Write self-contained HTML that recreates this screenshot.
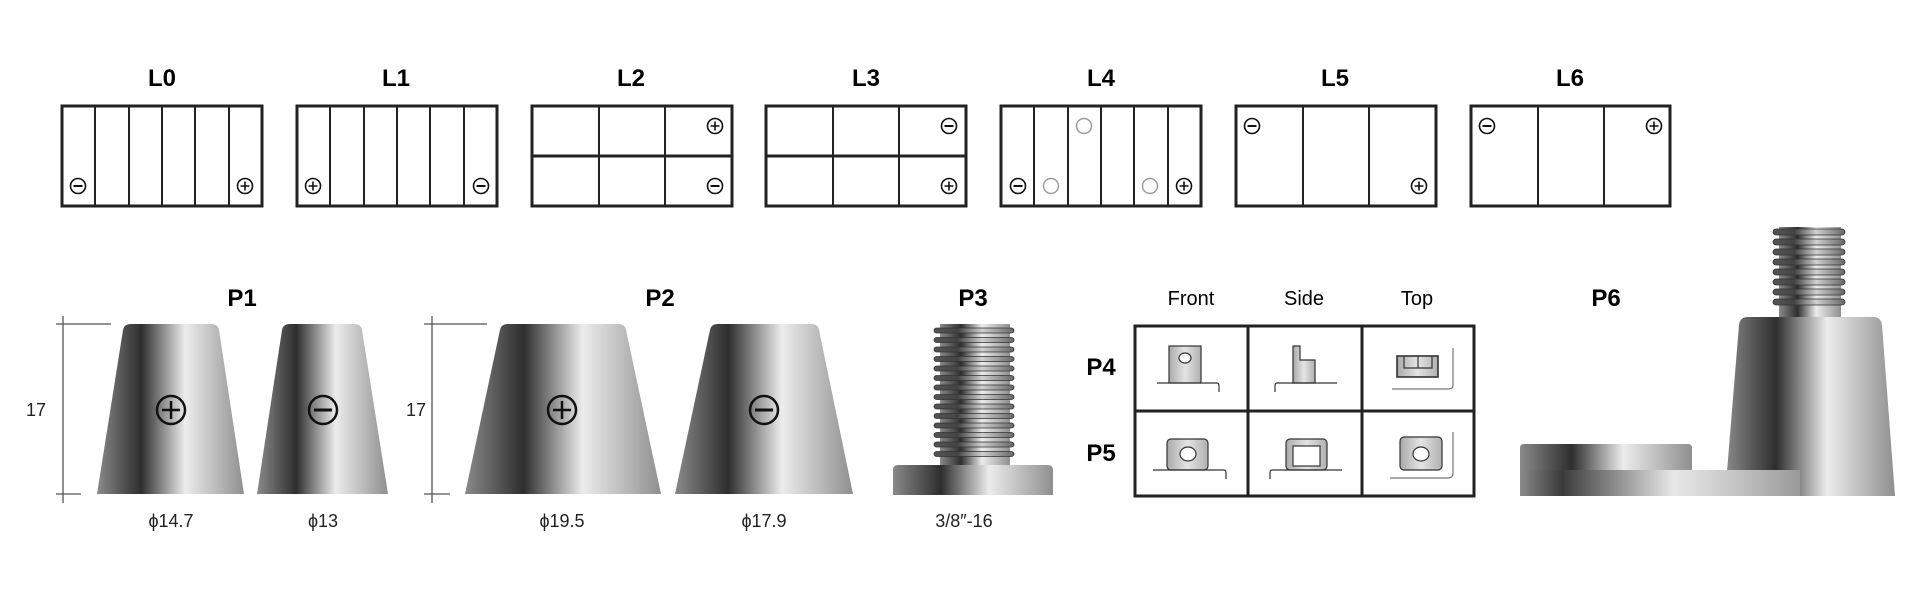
<!DOCTYPE html>
<html><head><meta charset="utf-8"><style>
html,body{margin:0;padding:0;background:#fff;}
svg{display:block;}
.t{font-family:"Liberation Sans Narrow","Liberation Sans",sans-serif;font-weight:bold;font-size:24px;text-anchor:middle;}
.h{font-family:"Liberation Sans Narrow","Liberation Sans",sans-serif;font-size:20px;text-anchor:middle;}
.d{font-family:"Liberation Sans",sans-serif;font-size:18px;text-anchor:middle;fill:#222;}
</style></head><body>
<svg width="1921" height="600" viewBox="0 0 1921 600" xmlns="http://www.w3.org/2000/svg">
<defs>
<linearGradient id="m" x1="0" x2="1" y1="0" y2="0">
<stop offset="0" stop-color="#8a8a8a"/><stop offset="0.3" stop-color="#2e2e2e"/><stop offset="0.6" stop-color="#ececec"/><stop offset="1" stop-color="#8f8f8f"/>
</linearGradient>
<linearGradient id="bar" x1="0" x2="1" y1="0" y2="0">
<stop offset="0" stop-color="#8a8a8a"/><stop offset="0.15" stop-color="#3a3a3a"/><stop offset="0.55" stop-color="#e8e8e8"/><stop offset="0.75" stop-color="#c8c8c8"/><stop offset="1" stop-color="#999"/>
</linearGradient>
<linearGradient id="th" x1="0" x2="1" y1="0" y2="0">
<stop offset="0" stop-color="#555"/><stop offset="0.3" stop-color="#444"/><stop offset="0.6" stop-color="#cfcfcf"/><stop offset="1" stop-color="#666"/>
</linearGradient>
<linearGradient id="ic" x1="0" x2="1" y1="0" y2="0">
<stop offset="0" stop-color="#aaa"/><stop offset="0.5" stop-color="#e4e4e4"/><stop offset="1" stop-color="#b0b0b0"/>
</linearGradient>
<g id="pl"><circle r="7.5" fill="#fff" stroke="#111" stroke-width="1.6"/><path d="M-4.5 0H4.5M0 -4.5V4.5" stroke="#111" stroke-width="1.6"/></g>
<g id="mi"><circle r="7.5" fill="#fff" stroke="#111" stroke-width="1.6"/><path d="M-4.5 0H4.5" stroke="#111" stroke-width="2"/></g>
<g id="gc"><circle r="7.5" fill="none" stroke="#999" stroke-width="1.4"/></g>
<g id="PL"><circle r="14" fill="none" stroke="#111" stroke-width="2.5"/><path d="M-9 0H9M0 -9V9" stroke="#111" stroke-width="2.5"/></g>
<g id="MI"><circle r="14" fill="none" stroke="#111" stroke-width="2.5"/><path d="M-9 0H9" stroke="#111" stroke-width="3"/></g>
</defs>

<g class="t">
<text x="162" y="86">L0</text><text x="396" y="86">L1</text><text x="631" y="86">L2</text><text x="866" y="86">L3</text>
<text x="1101" y="86">L4</text><text x="1335" y="86">L5</text><text x="1570" y="86">L6</text>
</g>
<g fill="none" stroke="#222">
<rect x="62" y="106" width="200" height="100" stroke-width="3"/>
<path d="M95 106V206M129 106V206M162 106V206M195 106V206M229 106V206" stroke-width="2"/>
<rect x="297" y="106" width="200" height="100" stroke-width="3"/>
<path d="M330 106V206M364 106V206M397 106V206M430 106V206M464 106V206" stroke-width="2"/>
<rect x="532" y="106" width="200" height="100" stroke-width="3"/>
<path d="M599 106V206M665 106V206" stroke-width="2"/><path d="M532 156H732" stroke-width="3"/>
<rect x="766" y="106" width="200" height="100" stroke-width="3"/>
<path d="M833 106V206M899 106V206" stroke-width="2"/><path d="M766 156H966" stroke-width="3"/>
<rect x="1001" y="106" width="200" height="100" stroke-width="3"/>
<path d="M1034 106V206M1068 106V206M1101 106V206M1134 106V206M1168 106V206" stroke-width="2"/>
<rect x="1236" y="106" width="200" height="100" stroke-width="3"/>
<path d="M1303 106V206M1369 106V206" stroke-width="2"/>
<rect x="1471" y="106" width="199" height="100" stroke-width="3"/>
<path d="M1538 106V206M1604 106V206" stroke-width="2"/>
</g>
<use href="#mi" x="78" y="186"/><use href="#pl" x="245" y="186"/>
<use href="#pl" x="313" y="186"/><use href="#mi" x="481" y="186"/>
<use href="#pl" x="715" y="126"/><use href="#mi" x="715" y="186"/>
<use href="#mi" x="949" y="126"/><use href="#pl" x="949" y="186"/>
<use href="#mi" x="1018" y="186"/><use href="#gc" x="1051" y="186"/><use href="#gc" x="1084" y="126"/><use href="#gc" x="1150" y="186"/><use href="#pl" x="1184" y="186"/>
<use href="#mi" x="1252" y="126"/><use href="#pl" x="1419" y="186"/>
<use href="#mi" x="1487" y="126"/><use href="#pl" x="1654" y="126"/>

<g class="t">
<text x="242" y="306">P1</text><text x="660" y="306">P2</text><text x="973" y="306">P3</text><text x="1606" y="306">P6</text>
<text x="1101" y="375">P4</text><text x="1101" y="461">P5</text>
</g>
<g class="h"><text x="1191" y="305">Front</text><text x="1304" y="305">Side</text><text x="1417" y="305">Top</text></g>

<g stroke="#555" stroke-width="1.3">
<path d="M63 316V503M56 324H111M56 494H81"/>
<path d="M432 316V503M424 324H487M424 494H450"/>
</g>
<text class="d" x="36" y="416">17</text><text class="d" x="416" y="416">17</text>

<path d="M97 494L123 330Q124 324 131 324H211Q218 324 219 330L244 494Z" fill="url(#m)"/>
<path d="M257 494L282 330Q283 324 290 324H354Q361 324 362 330L388 494Z" fill="url(#m)"/>
<path d="M465 494L500 330Q501 324 508 324H618Q625 324 626 330L661 494Z" fill="url(#m)"/>
<path d="M675 494L710 330Q711 324 718 324H811Q818 324 819 330L853 494Z" fill="url(#m)"/>
<use href="#PL" x="171" y="410"/><use href="#MI" x="323" y="410"/>
<use href="#PL" x="562" y="410"/><use href="#MI" x="764" y="410"/>
<g class="d"><text x="171" y="527">ϕ14.7</text><text x="323" y="527">ϕ13</text><text x="562" y="527">ϕ19.5</text><text x="764" y="527">ϕ17.9</text><text x="964" y="527">3/8″-16</text></g>

<!-- P3 bolt -->
<rect x="940" y="324" width="70" height="142" fill="url(#m)"/>
<g fill="url(#th)" stroke="#333" stroke-width="0.8">
<rect x="934" y="328" width="80" height="5" rx="2.5"/><rect x="934" y="337.5" width="80" height="5" rx="2.5"/><rect x="934" y="347" width="80" height="5" rx="2.5"/><rect x="934" y="356.5" width="80" height="5" rx="2.5"/><rect x="934" y="366" width="80" height="5" rx="2.5"/><rect x="934" y="375.5" width="80" height="5" rx="2.5"/><rect x="934" y="385" width="80" height="5" rx="2.5"/><rect x="934" y="394.5" width="80" height="5" rx="2.5"/><rect x="934" y="404" width="80" height="5" rx="2.5"/><rect x="934" y="413.5" width="80" height="5" rx="2.5"/><rect x="934" y="423" width="80" height="5" rx="2.5"/><rect x="934" y="432.5" width="80" height="5" rx="2.5"/><rect x="934" y="442" width="80" height="5" rx="2.5"/><rect x="934" y="451.5" width="80" height="5" rx="2.5"/>
</g>
<path d="M893 495V470Q893 465 898 465H1048Q1053 465 1053 470V495Z" fill="url(#m)"/>

<g fill="none" stroke="#222" stroke-width="3">
<rect x="1135" y="326" width="339" height="170"/>
<path d="M1248 326V496M1362 326V496M1135 411H1474"/>
</g>
<g stroke="#333" stroke-width="1.2">
<rect x="1169" y="346" width="32" height="37" fill="url(#ic)"/>
<ellipse cx="1185" cy="358" rx="6" ry="5" fill="#fff"/>
<path d="M1157 383H1217Q1219 383 1219 386V392" fill="none"/>
<path d="M1293 346H1300V360H1315V383H1293Z" fill="url(#ic)"/>
<path d="M1337 383H1277Q1275 383 1275 386V392" fill="none"/>
<rect x="1397" y="356" width="41" height="21" fill="url(#ic)" stroke-width="1.6"/>
<path d="M1404 356V368H1432V356M1418 356V368" fill="none"/>
<path d="M1453 348V385Q1453 389 1449 389H1392" fill="none" stroke="#777"/>
<rect x="1167" y="439" width="41" height="31" rx="4" fill="url(#ic)"/>
<ellipse cx="1188" cy="454" rx="8" ry="7" fill="#fff"/>
<path d="M1153 470H1224Q1226 470 1226 473V479" fill="none"/>
<rect x="1286" y="439" width="41" height="31" rx="4" fill="url(#ic)"/>
<rect x="1293" y="446" width="27" height="20" fill="#fff"/>
<path d="M1342 470H1272Q1270 470 1270 473V479" fill="none"/>
<rect x="1400" y="437" width="42" height="33" rx="4" fill="url(#ic)"/>
<ellipse cx="1421" cy="454" rx="8" ry="7" fill="#fff"/>
<path d="M1453 432V473Q1453 478 1448 478H1390" fill="none" stroke="#777"/>
</g>

<!-- P6 -->
<rect x="1779" y="227" width="62" height="90" fill="url(#m)"/>
<g fill="url(#th)" stroke="#333" stroke-width="0.8">
<rect x="1773" y="229" width="72" height="6" rx="3"/><rect x="1773" y="239" width="72" height="6" rx="3"/><rect x="1773" y="249" width="72" height="6" rx="3"/><rect x="1773" y="259" width="72" height="6" rx="3"/><rect x="1773" y="269" width="72" height="6" rx="3"/><rect x="1773" y="279" width="72" height="6" rx="3"/><rect x="1773" y="289" width="72" height="6" rx="3"/><rect x="1773" y="299" width="72" height="6" rx="3"/>
</g>
<path d="M1725 496L1739 325Q1740 317 1748 317H1873Q1881 317 1882 325L1895 496Z" fill="url(#m)"/>
<path d="M1520 470V448Q1520 444 1524 444H1688Q1692 444 1692 448V470Z" fill="url(#m)"/>
<rect x="1520" y="470" width="280" height="26" fill="url(#bar)"/>
</svg>
</body></html>
